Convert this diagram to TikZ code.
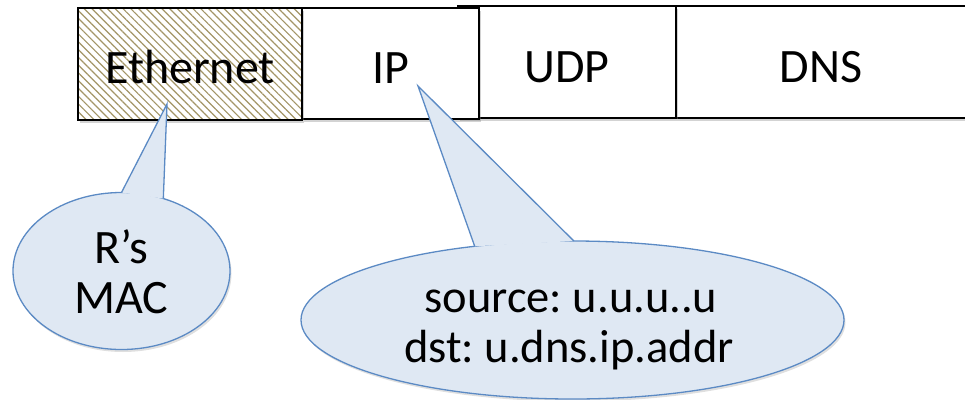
\documentclass[tikz,border=0pt]{standalone}
\usepackage{fontspec}
\setmainfont{Carlito}
\usetikzlibrary{shapes.geometric,patterns.meta,shadows}
\definecolor{hatch}{HTML}{A39566}
\definecolor{bubblefill}{HTML}{DFE8F3}
\definecolor{bubbleline}{HTML}{5B8AC4}
\tikzset{
  hdrbox/.style={draw=black, line width=1.8pt, fill=white, inner sep=0pt, outer sep=0pt,
    anchor=north west,
    drop shadow={shadow xshift=2pt, shadow yshift=-2.5pt, opacity=0.35}},
  hdrtext/.style={anchor=base, inner sep=0pt, font=\fontsize{48}{55}\selectfont},
  bubble/.style={ellipse, draw=bubbleline, line width=1.3pt, fill=bubblefill,
    inner sep=0pt, outer sep=0pt,
    drop shadow={shadow xshift=1.5pt, shadow yshift=-2.5pt, opacity=0.25}},
  tailfill/.style={fill=bubblefill},
  tailline/.style={draw=bubbleline, line width=1.3pt, line join=miter},
  bubbletext/.style={anchor=base, inner sep=0pt}
}
\begin{document}
\frenchspacing
\begin{tikzpicture}[x=1pt,y=-1pt]
\useasboundingbox (0,0) rectangle (965,399);
% header boxes
\node[hdrbox, minimum width=290pt, minimum height=112pt] (dns) at (676,6) {};
\node[hdrbox, minimum width=218pt, minimum height=112pt] (udp) at (458,6) {};
\node[hdrbox, minimum width=177pt, minimum height=111pt] (ip) at (302,8) {};
\node[hdrbox, minimum width=224pt, minimum height=112pt,
  preaction={fill=white},
  preaction={pattern={Lines[angle=-45,distance=5.5pt,line width=1.2pt]}, pattern color=hatch},
  fill=none] (eth) at (78,8) {};
\node[hdrtext] (ethtext) at (190,83) {Ethernet};
\node[hdrtext] (iptext) at (391,83) {IP};
\node[hdrtext] (udptext) at (567,82) {UDP};
\node[hdrtext] (dnstext) at (821,82) {DNS};
% pointer tips
\coordinate (ethtip) at (167,104);
\coordinate (iptip) at (418,86);
% left callout
\node[bubble, minimum width=217pt, minimum height=157pt] (mac) at (121.5,271) {};
\fill[tailfill] (mac.90) -- (ethtip) -- (mac.60.3) -- cycle;
\draw[tailline] (mac.90) -- (ethtip) -- (mac.60.3);
\node[bubbletext, font=\fontsize{48}{50}\selectfont] (mac1) at (121.5,263) {R’s};
\node[bubbletext, font=\fontsize{48}{50}\selectfont] (mac2) at (121.5,313) {MAC};
% right callout
\node[bubble, minimum width=543pt, minimum height=158pt] (ipaddr) at (572.5,320) {};
\fill[tailfill] (ipaddr.143.9) -- (iptip) -- (ipaddr.89.3) -- cycle;
\draw[tailline] (ipaddr.143.9) -- (iptip) -- (ipaddr.89.3);
\node[bubbletext, font=\fontsize{46.5}{50}\selectfont] (src) at (571,312) {source: u.u.u..u};
\node[bubbletext, font=\fontsize{46.5}{50}\selectfont] (dst) at (569,362) {dst: u.dns.ip.addr};
\end{tikzpicture}
\end{document}
